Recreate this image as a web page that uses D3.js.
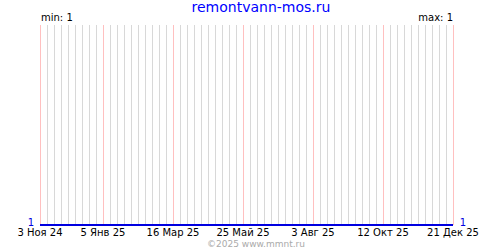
<!DOCTYPE html>
<html>
<head>
<meta charset="utf-8">
<script src="https://cdn.jsdelivr.net/npm/d3@7/dist/d3.min.js"></script>
<style>
  body { margin: 0; background: #fff; }
  svg { display: block; }
  text { font-family: "DejaVu Sans", sans-serif; }
</style>
</head>
<body>
<svg id="chart" width="500" height="250"></svg>
<script>
// data
const title = "remontvann-mos.ru";
const credit = "\u00a92025 www.mmnt.ru";
const startDate = "2024-11-03";
const endDate = "2025-12-21";
const tickDates = ["2024-11-03", "2025-01-05", "2025-03-16", "2025-05-25", "2025-08-03", "2025-10-12", "2025-12-21"];
const tickLabels = ["3 Ноя 24", "5 Янв 25", "16 Мар 25", "25 Май 25", "3 Авг 25", "12 Окт 25", "21 Дек 25"];
const pointDates = ["2024-11-03", "2025-01-05", "2025-03-16", "2025-05-25", "2025-08-03", "2025-10-12", "2025-12-21"];
const pointValues = [1, 1, 1, 1, 1, 1, 1];

const parse = d3.utcParse("%Y-%m-%d");
const svg = d3.select("#chart");

const plotL = 40, plotR = 453, plotT = 25, plotB = 225;

const x = d3.scaleUtc()
    .domain([parse(startDate), parse(endDate)])
    .range([plotL, plotR]);

const minV = d3.min(pointValues), maxV = d3.max(pointValues);
const y = d3.scaleLinear()
    .domain([minV, maxV === minV ? minV + 1 : maxV])
    .range([plotB, plotT]);

// weekly grid
const weeks = d3.utcWeek.range(parse(startDate), d3.utcDay.offset(parse(endDate), 1));
svg.append("g").selectAll("line")
    .data(weeks)
    .join("line")
    .attr("x1", d => Math.round(x(d)) + 0.5)
    .attr("x2", d => Math.round(x(d)) + 0.5)
    .attr("y1", plotT)
    .attr("y2", plotB)
    .attr("stroke", "#d8d8d8");

// red ticks
svg.append("g").selectAll("line")
    .data(tickDates)
    .join("line")
    .attr("x1", d => Math.round(x(parse(d))) + 0.5)
    .attr("x2", d => Math.round(x(parse(d))) + 0.5)
    .attr("y1", plotT)
    .attr("y2", plotB)
    .attr("stroke", "#ffc0c0");

// tick labels
svg.append("g").selectAll("text")
    .data(tickDates)
    .join("text")
    .attr("x", d => x(parse(d)))
    .attr("y", 236)
    .attr("text-anchor", "middle")
    .attr("font-size", 10)
    .attr("fill", "#000")
    .text((d, i) => tickLabels[i]);

// series
const line = d3.line()
    .x((d, i) => x(parse(pointDates[i])))
    .y(d => Math.round(y(d)));
svg.append("path")
    .datum(pointValues)
    .attr("d", line)
    .attr("fill", "none")
    .attr("stroke", "#0000e0")
    .attr("stroke-width", 2);

// value labels
svg.append("text")
    .attr("x", 31).attr("y", y(pointValues[0]) + 1)
    .attr("text-anchor", "middle")
    .attr("font-size", 10).attr("fill", "#0000e0")
    .text(pointValues[0]);
svg.append("text")
    .attr("x", 463).attr("y", y(pointValues[pointValues.length - 1]) + 1)
    .attr("text-anchor", "middle")
    .attr("font-size", 10).attr("fill", "#0000e0")
    .text(pointValues[pointValues.length - 1]);

// min / max
svg.append("text")
    .attr("x", 41).attr("y", 21)
    .attr("font-size", 10)
    .text("min: " + minV);
svg.append("text")
    .attr("x", 453).attr("y", 21)
    .attr("text-anchor", "end")
    .attr("font-size", 10)
    .text("max: " + maxV);

// title
svg.append("text")
    .attr("x", 261).attr("y", 12)
    .attr("text-anchor", "middle")
    .attr("font-size", 14)
    .attr("font-family", "Liberation Sans, sans-serif")
    .attr("fill", "#0000ff")
    .text(title);

// credit
svg.append("text")
    .attr("x", 256).attr("y", 247)
    .attr("text-anchor", "middle")
    .attr("font-size", 9)
    .attr("fill", "#aaa")
    .text(credit);
</script>
</body>
</html>
